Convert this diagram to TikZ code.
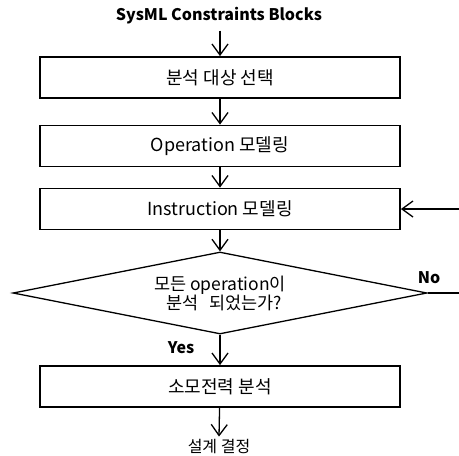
\documentclass[tikz,border=0pt]{standalone}
\usepackage{fontspec}
\setmainfont{Noto Sans CJK KR}
\usetikzlibrary{shapes.geometric,arrows.meta}
\begin{document}
\begin{tikzpicture}[x=1pt,y=-1pt,
  box/.style={draw,line width=1.8pt,minimum width=360pt,minimum height=41pt,inner sep=0pt,font=\fontsize{18}{20}\selectfont},
  decision/.style={draw,diamond,shape aspect=5.05,line width=1.3pt,minimum width=414pt,minimum height=82pt,inner sep=0pt,align=center,font=\fontsize{17.5}{19}\selectfont},
  conn/.style={line width=1.3pt,-{Straight Barb[length=11pt,width=16pt,line width=1.3pt]}},
  lbl/.style={font=\bfseries\fontsize{16}{18}\selectfont,inner sep=0pt}]
\useasboundingbox (0,0) rectangle (459,456);
\node[font=\bfseries\fontsize{16}{18}\selectfont,inner sep=0pt] (title) at (219,16) {SysML Constraints Blocks};
\node[box] (b1) at (220,77.5) {분석 대상 선택};
\node[box] (b2) at (220,146) {Operation 모델링};
\node[box] (b3) at (220,209) {Instruction 모델링};
\node[decision] (d) at (220,293) {모든 operation이\\ \hspace{0.5em}분석\hspace{0.6em}되었는가?};
\node[box] (b4) at (220,386.5) {소모전력 분석};
\node[font=\fontsize{16}{18}\selectfont,inner sep=0pt] (end) at (219,447) {설계 결정};
\node[lbl] (no) at (429,278) {No};
\node[lbl] (yes) at (181,348) {Yes};
\coordinate (c1) at (475,293);
\coordinate (c2) at (475,209);
\draw[conn] ([yshift=-6pt]title.south -| b1.north) -- (b1.north);
\draw[conn] (b1) -- (b2);
\draw[conn] (b2) -- (b3);
\draw[conn] (b3) -- (d.north);
\draw[conn] (d.south) -- (b4);
\draw[conn] (b4) -- ([yshift=3pt]end.north);
\draw[conn] (d.east) -- (c1) -- (c2) -- (b3.east);
\end{tikzpicture}
\end{document}
